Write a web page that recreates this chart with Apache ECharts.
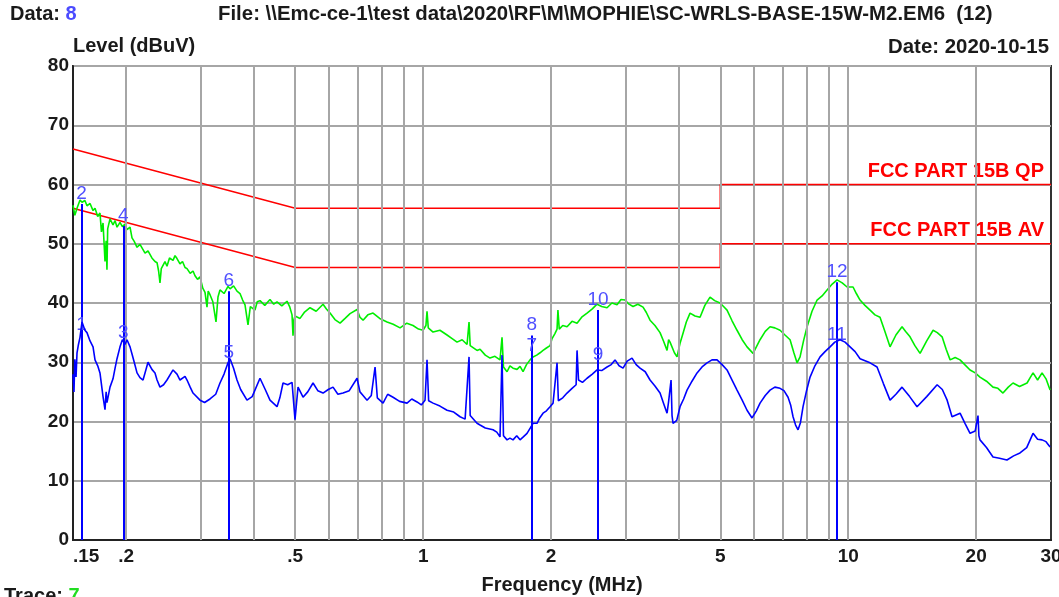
<!DOCTYPE html>
<html><head><meta charset="utf-8">
<script src="https://cdn.jsdelivr.net/npm/echarts@6/dist/echarts.min.js"></script>
<style>html,body{margin:0;padding:0;background:#fff}#c{width:1059px;height:597px}</style>
</head><body><div id="c"></div>
<script>
// ---------- data ----------
const xTickLabels = [0.15, 0.2, 0.5, 1, 2, 5, 10, 20, 30];
const xGridLines = [0.2, 0.3, 0.4, 0.5, 0.6, 0.7, 0.8, 0.9, 1, 2, 3, 4, 5, 6, 7, 8, 9, 10, 20];
const yTicks = [0, 10, 20, 30, 40, 50, 60, 70, 80];

const qpLimitFreq = [0.15, 0.5, 5, 5, 30];
const qpLimitLevel = [66, 56, 56, 60, 60];
const avLimitFreq = [0.15, 0.5, 5, 5, 30];
const avLimitLevel = [56, 46, 46, 50, 50];
const limitNames = ['FCC PART 15B QP', 'FCC PART 15B AV'];

const markerNames = ['1','2','3','4','5','6','7','8','9','10','11','12'];
const markerFreq = [0.157, 0.157, 0.197, 0.197, 0.349, 0.349, 1.80, 1.80, 2.579, 2.579, 9.41, 9.41];
const markerLevel = [34.5, 56.7, 33.2, 53.0, 29.8, 42.0, 31.0, 34.5, 29.5, 38.8, 32.9, 43.5];

// green trace (peak): [MHz, dBuV]
const greenTrace = [
[0.150,56.5],[0.1515,54.8],[0.1533,56.0],[0.1558,57.4],[0.1575,57.0],[0.160,57.3],[0.1618,56.4],[0.1645,56.8],
[0.1672,55.6],[0.169,56.0],[0.1715,54.6],[0.1736,55.2],[0.175,52.0],[0.1765,53.5],[0.1784,47.0],[0.1795,50.5],
[0.1803,45.6],[0.181,52.5],[0.1833,54.2],[0.1863,53.2],[0.1884,53.9],[0.1904,52.8],[0.1935,53.6],[0.196,52.9],
[0.1988,53.3],[0.201,52.4],[0.2043,52.8],[0.2065,51.0],[0.209,50.4],[0.2122,49.4],[0.2156,49.9],[0.2192,49.0],
[0.2216,48.4],[0.2252,48.8],[0.230,47.6],[0.2339,47.0],[0.2365,46.8],[0.2385,45.4],[0.2403,43.4],[0.242,45.8],
[0.2469,47.0],[0.2496,46.2],[0.253,47.6],[0.2579,47.2],[0.2607,48.0],[0.2635,47.5],[0.2678,46.6],[0.2715,47.0],
[0.2752,46.0],[0.2782,45.8],[0.283,45.0],[0.2874,45.4],[0.2905,44.6],[0.2945,44.0],[0.2985,44.4],[0.303,42.5],
[0.3067,41.8],[0.31,39.3],[0.312,42.0],[0.3151,41.4],[0.320,40.2],[0.3255,36.8],[0.329,41.0],[0.3326,42.2],
[0.340,41.6],[0.3474,42.8],[0.3512,42.4],[0.358,42.9],[0.3647,42.0],[0.3707,41.6],[0.376,40.5],[0.3809,39.7],
[0.3871,36.3],[0.392,39.4],[0.402,38.8],[0.407,40.2],[0.4131,40.4],[0.424,39.6],[0.4361,40.6],[0.445,39.8],
[0.453,40.2],[0.465,39.5],[0.4782,40.3],[0.485,39.4],[0.4914,38.0],[0.494,34.5],[0.4965,37.2],[0.4994,37.8],
[0.5131,37.4],[0.525,38.4],[0.5417,39.2],[0.560,38.6],[0.5813,39.8],[0.592,39.0],[0.6037,38.3],[0.620,37.2],
[0.6374,36.6],[0.655,37.4],[0.6729,38.2],[0.6989,38.9],[0.710,37.6],[0.722,37.1],[0.741,38.0],[0.7622,38.3],
[0.790,37.4],[0.8222,36.8],[0.850,36.4],[0.8823,35.8],[0.915,36.6],[0.9464,36.2],[0.975,35.6],[0.9992,35.4],
[1.015,36.2],[1.021,38.6],[1.028,35.8],[1.0549,35.1],[1.095,35.4],[1.1379,34.6],[1.170,34.0],[1.2013,33.4],
[1.235,33.8],[1.2682,33.0],[1.282,36.8],[1.29,32.8],[1.3388,32.0],[1.3608,32.2],[1.400,31.2],[1.4364,30.7],
[1.475,31.0],[1.5163,30.4],[1.5328,34.2],[1.545,29.2],[1.575,28.4],[1.600,29.4],[1.627,29.0],[1.6627,28.8],
[1.690,29.3],[1.7177,28.4],[1.750,29.6],[1.7841,30.4],[1.8134,30.9],[1.850,31.2],[1.8835,31.6],[1.9144,32.0],
[1.950,32.4],[1.9884,32.8],[2.01,34.0],[2.040,34.8],[2.0652,35.6],[2.075,38.8],[2.09,35.6],[2.130,36.2],
[2.1801,36.0],[2.240,36.9],[2.3015,36.6],[2.360,37.6],[2.4296,38.3],[2.500,39.0],[2.5648,39.8],[2.630,39.4],
[2.7075,39.2],[2.780,40.0],[2.8583,39.7],[2.920,40.6],[2.9847,40.5],[3.050,39.8],[3.1169,39.4],[3.200,39.8],
[3.2906,39.3],[3.350,38.4],[3.4178,37.1],[3.510,36.2],[3.6081,35.0],[3.680,33.5],[3.7475,32.0],[3.780,33.8],
[3.809,33.4],[3.8504,33.2],[3.900,31.6],[3.9561,30.9],[4.021,33.2],[4.0868,34.9],[4.160,36.8],[4.2447,38.3],
[4.360,37.8],[4.4813,37.6],[4.600,39.6],[4.7306,41.0],[4.850,40.4],[4.994,40.0],[5.090,39.4],[5.1867,38.8],
[5.330,37.0],[5.4756,35.4],[5.630,33.8],[5.7804,32.6],[5.9716,31.5],[6.080,32.6],[6.2025,33.8],[6.380,35.2],
[6.5478,36.0],[6.720,35.8],[6.912,35.4],[7.100,34.6],[7.2975,33.8],[7.450,31.6],[7.5795,29.9],[7.704,30.9],
[7.850,33.6],[8.0025,36.0],[8.220,38.6],[8.448,40.5],[8.680,41.2],[8.9175,42.2],[9.170,43.2],[9.414,43.9],
[9.680,43.4],[9.9375,42.7],[10.266,42.7],[10.450,41.6],[10.662,40.5],[10.950,39.6],[11.256,38.8],[11.560,38.0],
[11.88,37.6],[12.200,35.2],[12.543,32.6],[12.950,34.6],[13.386,36.0],[13.650,35.2],[13.979,34.3],[14.350,32.8],
[14.76,31.5],[15.300,33.6],[15.84,35.4],[16.200,35.0],[16.63,34.3],[17.000,32.2],[17.37,30.4],[17.850,30.8],
[18.33,30.4],[18.800,29.6],[19.35,28.7],[19.900,28.2],[20.42,27.5],[21.150,26.8],[21.91,25.8],[22.500,25.6],
[23.13,24.8],[23.800,25.8],[24.42,26.5],[25.300,25.9],[26.35,26.5],[26.800,27.4],[27.22,28.2],[27.900,27.0],
[28.58,28.2],[29.200,27.2],[29.85,25.3]
];

// blue trace (average): [MHz, dBuV]
const blueTrace = [
[0.150,28.0],[0.1508,25.0],[0.1515,30.5],[0.1525,27.5],[0.1533,31.6],[0.1545,33.0],[0.1558,34.2],[0.1575,36.8],
[0.160,35.4],[0.1618,35.0],[0.1645,33.6],[0.1672,32.6],[0.169,30.4],[0.1715,29.4],[0.1736,28.2],[0.1765,24.2],
[0.1784,22.0],[0.1795,25.0],[0.1803,23.2],[0.1833,25.8],[0.1863,27.2],[0.1884,29.0],[0.1904,30.6],[0.1935,32.6],
[0.196,33.8],[0.1988,33.0],[0.201,33.8],[0.2043,32.6],[0.2065,31.4],[0.209,30.0],[0.2122,28.2],[0.2156,27.4],
[0.2192,27.0],[0.222,28.4],[0.2252,30.0],[0.230,28.8],[0.2339,28.2],[0.2365,27.0],[0.2403,25.8],[0.245,26.2],
[0.2496,27.0],[0.2579,28.7],[0.2635,28.0],[0.2678,27.0],[0.2752,27.6],[0.2782,27.0],[0.283,25.8],[0.2874,24.8],
[0.2985,23.6],[0.306,23.2],[0.3151,23.8],[0.325,24.6],[0.3326,26.5],[0.340,28.0],[0.3474,29.9],[0.3512,30.6],
[0.358,29.0],[0.3647,27.0],[0.372,25.4],[0.385,23.6],[0.396,24.2],[0.4131,27.3],[0.425,25.4],[0.4361,23.6],
[0.453,22.5],[0.460,24.0],[0.468,26.5],[0.480,26.2],[0.4914,26.6],[0.4994,20.3],[0.5076,25.8],[0.5216,24.1],
[0.535,25.0],[0.5506,26.5],[0.565,25.2],[0.5813,24.8],[0.598,25.4],[0.6136,25.8],[0.630,24.6],[0.6478,24.8],
[0.670,25.2],[0.6989,27.3],[0.710,25.0],[0.722,24.4],[0.7378,23.6],[0.755,24.4],[0.7705,29.2],[0.780,24.0],
[0.8046,23.1],[0.825,24.6],[0.8494,24.1],[0.880,23.4],[0.9163,23.1],[0.940,23.8],[0.9672,23.3],[0.990,22.8],
[1.010,23.6],[1.021,30.4],[1.030,23.5],[1.0549,23.1],[1.095,22.6],[1.1379,21.9],[1.180,21.6],[1.221,20.8],
[1.255,20.4],[1.282,30.9],[1.290,21.0],[1.3388,19.7],[1.3608,19.4],[1.400,18.9],[1.4599,18.6],[1.490,18.2],
[1.5163,17.4],[1.5328,31.2],[1.545,17.6],[1.575,16.9],[1.600,17.2],[1.627,16.9],[1.660,17.6],[1.69,16.9],
[1.720,17.4],[1.7553,18.0],[1.790,19.0],[1.8134,19.7],[1.8531,19.7],[1.880,20.6],[1.9144,21.4],[1.950,21.8],
[1.9884,22.5],[2.021,23.1],[2.0652,29.9],[2.080,23.5],[2.130,24.0],[2.1801,24.8],[2.240,25.6],[2.290,26.2],
[2.3015,32.0],[2.320,27.0],[2.370,26.6],[2.4296,27.3],[2.500,28.0],[2.5648,28.7],[2.630,28.6],[2.7075,29.2],
[2.770,29.6],[2.8274,30.4],[2.890,29.4],[2.9526,29.0],[3.020,30.2],[3.1,30.7],[3.170,29.6],[3.2375,29.0],
[3.330,28.4],[3.4178,27.0],[3.510,26.0],[3.6081,24.8],[3.680,23.0],[3.7475,21.4],[3.780,23.4],[3.809,23.1],
[3.830,27.0],[3.8504,21.0],[3.8712,19.7],[3.950,20.2],[4.021,22.5],[4.100,23.8],[4.1763,25.3],[4.290,26.8],
[4.409,28.2],[4.530,29.2],[4.6542,29.9],[4.780,30.4],[4.9134,30.4],[5.050,29.6],[5.1867,28.7],[5.330,27.0],
[5.4756,25.3],[5.630,23.6],[5.7804,21.9],[5.9391,20.6],[6.080,21.8],[6.2025,23.1],[6.380,24.4],[6.5478,25.3],
[6.720,25.8],[6.912,25.6],[7.060,25.2],[7.2188,24.1],[7.320,22.8],[7.4169,20.8],[7.520,19.4],[7.62,18.6],
[7.720,19.8],[7.83,22.5],[7.980,25.2],[8.133,27.5],[8.350,29.4],[8.586,30.9],[8.820,31.8],[9.063,32.6],
[9.300,33.4],[9.5685,33.8],[9.830,33.4],[10.101,32.6],[10.380,31.8],[10.662,30.6],[11.256,29.9],[11.691,29.2],
[12.100,26.4],[12.543,23.6],[12.950,24.6],[13.386,25.8],[13.950,24.2],[14.52,22.5],[15.300,24.2],[16.19,26.2],
[16.650,25.4],[17.09,23.6],[17.55,20.8],[18.33,21.4],[18.850,19.6],[19.35,18.0],[19.900,18.4],[20.2,21.0],
[20.30,17.6],[20.42,16.9],[21.150,15.6],[21.91,14.0],[22.700,13.8],[23.63,13.5],[24.500,14.2],[25.36,14.7],
[26.300,15.6],[27.22,18.0],[27.900,17.0],[28.58,16.9],[29.200,16.6],[29.85,15.7]
];

// ---------- chart ----------
const FONT = '"Liberation Sans", Arial, sans-serif';
const TXT = '#1a1a1a';
const FS = 20;
const chart = echarts.init(document.getElementById('c'), null, {renderer: 'canvas'});

function zipData(freqs, levels) { return freqs.map((f, i) => [f, levels[i]]); }
function fmtFreq(v) {
  const r = Math.round(v * 100) / 100;
  return r < 1 ? String(r).replace(/^0/, '') : String(r);
}
function limitSeries(name, freqs, levels, label) {
  return {
    name: name, type: 'line', z: 3, showSymbol: false, symbol: 'none', silent: true,
    lineStyle: {color: '#ff0000', width: 1.5}, itemStyle: {color: '#ff0000'},
    data: zipData(freqs, levels),
    endLabel: {show: true, formatter: label, align: 'right', verticalAlign: 'bottom',
      distance: 0, offset: [-7, -3], color: '#ff0000', fontSize: FS, fontWeight: 'bold', fontFamily: FONT}
  };
}

const option = {
  animation: false,
  backgroundColor: '#ffffff',
  textStyle: {fontFamily: FONT},
  grid: {left: 73, right: 8, top: 66, bottom: 57, show: true, borderColor: '#333', borderWidth: 2,
         backgroundColor: 'transparent', containLabel: false, outerBoundsMode: 'none'},
  xAxis: {
    type: 'log', logBase: 10, min: 0.15, max: 30,
    name: 'Frequency (MHz)', nameLocation: 'middle', nameGap: 35,
    nameTextStyle: {color: TXT, fontSize: FS, fontWeight: 'bold', fontFamily: FONT},
    axisLine: {show: true, onZero: false, lineStyle: {color: '#222', width: 2}},
    axisTick: {show: false},
    splitLine: {show: false},
    axisLabel: {customValues: xTickLabels, formatter: fmtFreq, color: TXT, fontSize: 19, fontWeight: 'bold',
                fontFamily: FONT, margin: 7, alignMinLabel: 'left', showMinLabel: true, showMaxLabel: true,
                hideOverlap: false}
  },
  yAxis: {
    type: 'value', min: 0, max: 80, interval: 10,
    name: 'Level (dBuV)', nameLocation: 'end', nameGap: 6,
    nameTextStyle: {color: TXT, fontSize: FS, fontWeight: 'bold', fontFamily: FONT, align: 'left'},
    axisLine: {show: true, lineStyle: {color: '#222', width: 2}},
    axisTick: {show: false},
    splitLine: {show: true, lineStyle: {color: '#a6a6a6', width: 2}},
    axisLabel: {color: TXT, fontSize: 19, fontWeight: 'bold', fontFamily: FONT, margin: 4}
  },
  graphic: [
    {type: 'text', left: 10, top: 4, z: 100, style: {text: '{a|Data: }{b|8}', rich: {
      a: {fill: TXT, fontSize: FS, fontWeight: 'bold', fontFamily: FONT},
      b: {fill: '#4b4bff', fontSize: FS, fontWeight: 'bold', fontFamily: FONT}}}},
    {type: 'text', left: 218, top: 4, z: 100, style: {text: 'File: \\\\Emc-ce-1\\test data\\2020\\RF\\M\\MOPHIE\\SC-WRLS-BASE-15W-M2.EM6  (12)',
      fill: TXT, fontSize: 20.4, fontWeight: 'bold', fontFamily: FONT}},
    {type: 'text', right: 10, top: 37, z: 100, style: {text: 'Date: 2020-10-15',
      fill: TXT, fontSize: 20.4, fontWeight: 'bold', fontFamily: FONT}},
    {type: 'text', left: 4, top: 586, z: 100, style: {text: '{a|Trace: }{b|7}', rich: {
      a: {fill: TXT, fontSize: FS, fontWeight: 'bold', fontFamily: FONT},
      b: {fill: '#22dd22', fontSize: FS, fontWeight: 'bold', fontFamily: FONT}}}}
  ],
  series: [
    { // vertical grid lines
      type: 'line', data: [], z: 1, silent: true,
      markLine: {silent: true, symbol: ['none', 'none'], label: {show: false},
        lineStyle: {color: '#a6a6a6', width: 2, type: 'solid'},
        data: xGridLines.map(v => ({xAxis: v}))}
    },
    limitSeries('QP limit', qpLimitFreq, qpLimitLevel, limitNames[0]),
    limitSeries('AV limit', avLimitFreq, avLimitLevel, limitNames[1]),
    {
      name: 'Peak', type: 'line', z: 4, showSymbol: false, symbol: 'none', silent: true,
      lineStyle: {color: '#00ee00', width: 1.6}, data: greenTrace
    },
    {
      name: 'Average', type: 'line', z: 5, showSymbol: false, symbol: 'none', silent: true,
      lineStyle: {color: '#0000ff', width: 1.6}, data: blueTrace,
      markLine: {silent: true, symbol: ['none', 'none'], animation: false,
        lineStyle: {color: '#0000ff', width: 2, type: 'solid'},
        label: {show: true, position: 'end', distance: 1, formatter: p => p.name,
                color: '#5050ff', fontSize: 19, fontFamily: FONT},
        data: markerFreq.map((f, i) => [
          {name: markerNames[i], coord: [f, 0]},
          {coord: [f, markerLevel[i]]}
        ])}
    }
  ]
};
chart.setOption(option);
</script></body></html>
